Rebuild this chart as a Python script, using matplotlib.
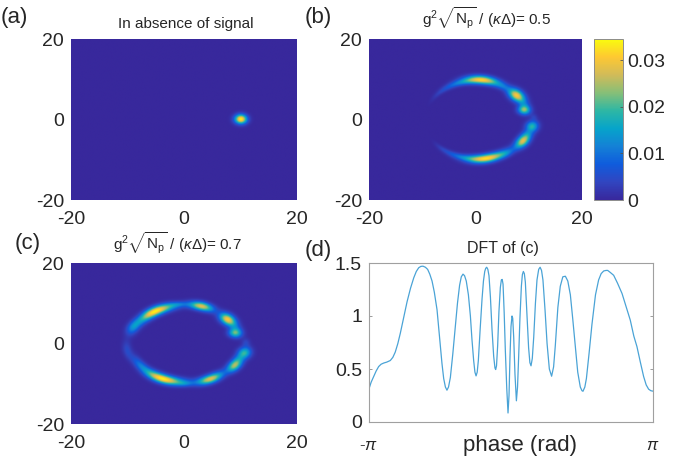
import numpy as np
import matplotlib
matplotlib.use('Agg')
import matplotlib.pyplot as plt
from matplotlib.colors import LinearSegmentedColormap

plt.rcParams['font.family'] = ['Liberation Sans', 'DejaVu Sans']
plt.rcParams['mathtext.fontset'] = 'custom'
plt.rcParams['mathtext.rm'] = 'Liberation Sans'
plt.rcParams['mathtext.it'] = 'Liberation Sans:italic'
plt.rcParams['axes.unicode_minus'] = False

W, H = 685.0, 461.0
TXT = '#262626'

# ---- data ----
# blobs on the ring: polar angle (deg), radius, peak, angular width (deg), radial width
blobs_b = [
    (83, 9.95, 0.031, 14, 0.72),
    (112, 9.6, 0.008, 14, 0.50),
    (136, 9.5, 0.002, 10, 0.32),
    (57, 9.7, 0.005, 6, 0.60),
    (38, 9.8, 0.030, 7.5, 0.85),
    (26, 10.0, 0.005, 5, 0.70),
    (15, 9.5, 0.024, 5, 0.80),
    (3, 11.0, 0.003, 3, 0.45),
    (-9, 10.8, 0.018, 5, 0.80),
    (-20, 10.5, 0.005, 5, 0.70),
    (-31, 10.4, 0.028, 7.5, 0.75),
    (-55, 10.3, 0.006, 7, 0.60),
    (-78, 9.9, 0.032, 15, 0.72),
    (-108, 9.7, 0.007, 14, 0.48),
    (-129, 9.6, 0.002, 9, 0.32),
]

blobs_c = [
    (122.5, 9.5, 0.034, 15, 0.75),
    (155, 9.9, 0.012, 8, 0.70),
    (-170, 10.2, 0.005, 10, 0.55),
    (-146, 9.4, 0.008, 10, 0.60),
    (-113, 9.55, 0.034, 15, 0.75),
    (-89, 10.0, 0.006, 6, 0.50),
    (-62, 10.0, 0.028, 10, 0.72),
    (-31, 10.5, 0.025, 7, 0.72),
    (-20, 10.5, 0.005, 5, 0.70),
    (-12, 11.0, 0.018, 5, 0.80),
    (1, 11.0, 0.004, 4, 0.50),
    (16.5, 9.5, 0.022, 5, 0.80),
    (27, 10.0, 0.005, 5, 0.70),
    (38, 9.8, 0.030, 7, 0.80),
    (71.5, 9.8, 0.028, 9, 0.72),
    (96, 9.8, 0.006, 7, 0.45),
]

# the single spot of panel (a): x, y, peak, x width, y width
spot_a = (10.1, 0.1, 0.034, 0.75, 0.80)

# curve in panel (d), phase in units of pi
phase_pi = [-1.0, -0.985, -0.967, -0.95, -0.932, -0.915, -0.897, -0.875, -0.85, -0.832,
            -0.815, -0.797, -0.779, -0.755, -0.732, -0.708, -0.685, -0.667, -0.65, -0.635,
            -0.62, -0.603, -0.587, -0.572, -0.556, -0.54, -0.521, -0.51, -0.498, -0.486,
            -0.474, -0.462, -0.451, -0.44, -0.427, -0.41, -0.392, -0.377, -0.362, -0.35,
            -0.338, -0.327, -0.315, -0.30, -0.286, -0.275, -0.263, -0.254, -0.246, -0.238,
            -0.23, -0.217, -0.204, -0.194, -0.185, -0.178, -0.171, -0.163, -0.155, -0.145,
            -0.134, -0.122, -0.113, -0.108, -0.102, -0.094, -0.085, -0.075, -0.068, -0.062,
            -0.056, -0.048, -0.04, -0.03, -0.021, -0.014, -0.007, 0.0, 0.007, 0.012,
            0.019, 0.028, 0.038, 0.046, 0.054, 0.063, 0.073, 0.08, 0.087, 0.094,
            0.101, 0.112, 0.124, 0.133, 0.141, 0.15, 0.16, 0.172, 0.183, 0.195,
            0.205, 0.215, 0.225, 0.24, 0.254, 0.27, 0.286, 0.30, 0.312, 0.33,
            0.347, 0.365, 0.383, 0.40, 0.418, 0.435, 0.453, 0.47, 0.488, 0.50,
            0.507, 0.52, 0.531, 0.55, 0.57, 0.595, 0.617, 0.635, 0.653, 0.67,
            0.681, 0.70, 0.723, 0.75, 0.782, 0.81, 0.84, 0.865, 0.887, 0.91,
            0.934, 0.952, 0.969, 0.985, 1.0]
dft = [0.313, 0.375, 0.429, 0.48, 0.523, 0.545, 0.556, 0.565, 0.58, 0.61,
       0.66, 0.74, 0.84, 0.99, 1.134, 1.26, 1.36, 1.42, 1.455, 1.468,
       1.47, 1.46, 1.44, 1.395, 1.33, 1.225, 1.06, 0.90, 0.72, 0.55,
       0.41, 0.33, 0.30, 0.33, 0.42, 0.64, 0.90, 1.12, 1.29, 1.37,
       1.395, 1.38, 1.33, 1.2, 1.00, 0.78, 0.58, 0.47, 0.435, 0.47,
       0.58, 0.88, 1.16, 1.33, 1.42, 1.45, 1.46, 1.44, 1.38, 1.18,
       0.88, 0.62, 0.51, 0.495, 0.53, 0.72, 1.04, 1.27, 1.34, 1.345,
       1.30, 1.03, 0.68, 0.32, 0.085, 0.25, 0.62, 0.90, 1.0, 0.98,
       0.80, 0.45, 0.20, 0.33, 0.62, 0.98, 1.28, 1.39, 1.42, 1.40,
       1.32, 1.02, 0.70, 0.56, 0.53, 0.60, 0.80, 1.12, 1.34, 1.44,
       1.46, 1.43, 1.34, 1.05, 0.74, 0.50, 0.432, 0.52, 0.72, 1.08,
       1.28, 1.37, 1.375, 1.33, 1.2, 0.97, 0.71, 0.47, 0.33, 0.295,
       0.29, 0.33, 0.41, 0.65, 0.92, 1.2, 1.34, 1.40, 1.425, 1.43,
       1.43, 1.41, 1.384, 1.31, 1.212, 1.09, 0.961, 0.81, 0.711, 0.57,
       0.429, 0.35, 0.31, 0.295, 0.291]

map_ticks = [-20, 0, 20]
cbar_ticks = [0, 0.01, 0.02, 0.03]
cbar_labels = ['0', '0.01', '0.02', '0.03']
dft_ticks = [0, 0.5, 1, 1.5]
dft_labels = ['0', '0.5', '1', '1.5']

parula = ['#38289c', '#3145c0', '#0f5cdd', '#1481d6', '#06a4ca', '#2eb7a4',
          '#87bf77', '#d1bb59', '#fec832', '#f9fb0e']
cmap = LinearSegmentedColormap.from_list('parula', parula)
VMAX = 0.0345

gx = np.linspace(-20, 20, 400)
gy = np.linspace(-20, 20, 300)
X, Y = np.meshgrid(gx, gy)
R = np.hypot(X, Y)
TH = np.degrees(np.arctan2(Y, X))


def ring_map(blobs):
    z = np.zeros_like(X)
    for th0, r0, amp, dth, dr in blobs:
        d = (TH - th0 + 180) % 360 - 180
        z = z + amp * np.exp(-0.5 * (d / dth) ** 2 - 0.5 * ((R - r0) / dr) ** 2)
    return z


def spot_map(spot):
    x0, y0, amp, sx, sy = spot
    return amp * np.exp(-0.5 * ((X - x0) / sx) ** 2 - 0.5 * ((Y - y0) / sy) ** 2)


def axes_px(x0, y0, x1, y1):
    return fig.add_axes([x0 / W, 1 - y1 / H, (x1 - x0) / W, (y1 - y0) / H])


def map_panel(box, z, title, title_x, title_y):
    ax = axes_px(*box)
    im = ax.imshow(z, extent=[-20, 20, -20, 20], origin='lower',
                   cmap=cmap, vmin=0, vmax=VMAX, aspect='auto', interpolation='bilinear')
    ax.set_xticks(map_ticks)
    ax.set_yticks(map_ticks)
    ax.tick_params(length=0, labelsize=14, labelcolor=TXT, pad=5)
    ax.tick_params(axis='x', pad=8)
    for s in ax.spines.values():
        s.set_visible(False)
    fig.text(title_x / W, 1 - title_y / H, title, fontsize=11,
             color=TXT, ha='center', va='center')
    return im


fig = plt.figure(figsize=(6.85, 4.61), dpi=100)

sig_b = r'g$^2$$\sqrt{\mathrm{N}_\mathrm{p}}$ / ($\kappa\Delta$)= 0.5'
sig_c = r'g$^2$$\sqrt{\mathrm{N}_\mathrm{p}}$ / ($\kappa\Delta$)= 0.7'

map_panel((71, 39, 297, 200), spot_map(spot_a), 'In absence of signal', 186, 24)
im = map_panel((369, 39, 582, 200), ring_map(blobs_b), sig_b, 487, 18)
map_panel((71, 263, 297, 424), ring_map(blobs_c), sig_c, 177, 243)

# colorbar
cax = axes_px(594, 39, 623, 200)
cb = fig.colorbar(im, cax=cax)
cb.set_ticks(cbar_ticks)
cb.set_ticklabels(cbar_labels)
cb.ax.tick_params(length=2, direction='in', labelsize=14, labelcolor=TXT, color='#555555', width=0.6, pad=3)
cb.outline.set_edgecolor('#8c8c8c')
cb.outline.set_linewidth(0.7)

# panel (d)
ax = axes_px(369, 263, 653, 422)
ax.plot(np.array(phase_pi) * np.pi, dft, color='#4aa3d6', lw=0.9)
ax.set_xlim(-np.pi, np.pi)
ax.set_ylim(0, 1.5)
ax.set_yticks(dft_ticks)
ax.set_yticklabels(dft_labels)
ax.set_xticks([-np.pi, np.pi])
ax.set_xticklabels([r'-$\pi$', r'$\pi$'], fontsize=12, family='DejaVu Serif')
ax.tick_params(axis='y', direction='in', right=True, length=2, labelsize=14,
               labelcolor=TXT, color='#8c8c8c', width=0.6, pad=5)
ax.tick_params(axis='x', length=0, labelcolor=TXT, pad=11)
for s in ax.spines.values():
    s.set_color('#a0a0a0')
    s.set_linewidth(0.8)
fig.text(520 / W, 1 - 445 / H, 'phase (rad)', fontsize=16, color=TXT, ha='center', va='center')
fig.text(503 / W, 1 - 248 / H, 'DFT of (c)', fontsize=11.5, color=TXT, ha='center', va='center')

# panel letters
fig.text(1 / W, 1 - 18 / H, '(a)', fontsize=16, color=TXT, va='center')
fig.text(305 / W, 1 - 17 / H, '(b)', fontsize=16, color=TXT, va='center')
fig.text(15 / W, 1 - 243 / H, '(c)', fontsize=16, color=TXT, va='center')
fig.text(305 / W, 1 - 250 / H, '(d)', fontsize=16, color=TXT, va='center')

fig.savefig('out.png', dpi=100)
